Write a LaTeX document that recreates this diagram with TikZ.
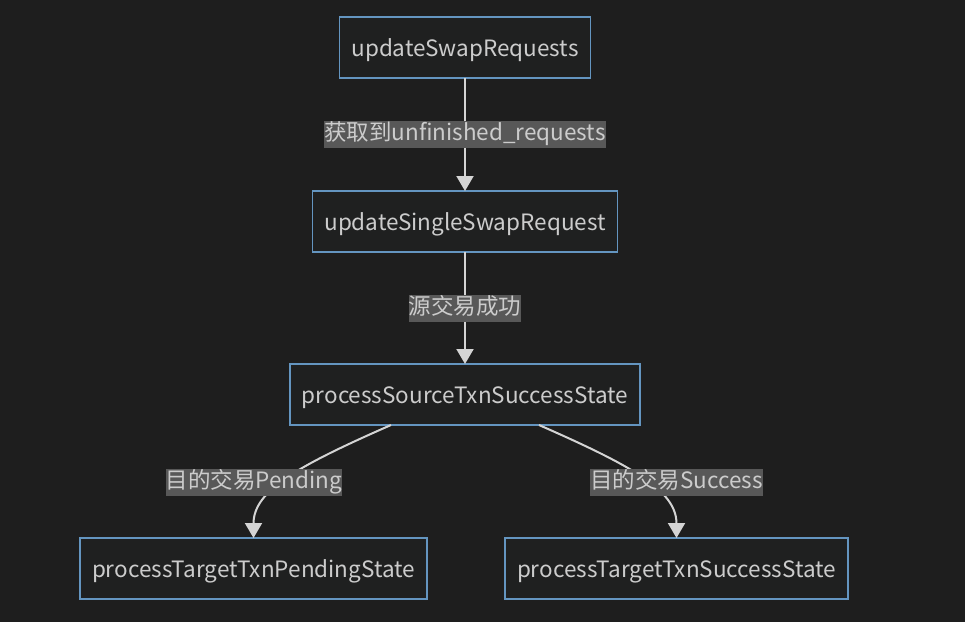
\documentclass[tikz,border=0pt]{standalone}
\usepackage{fontspec}
\setmainfont{Noto Sans CJK SC}
\definecolor{DkBg}{HTML}{1E1E1E}
\definecolor{BoxFill}{HTML}{1F2020}
\definecolor{BoxLine}{HTML}{6495C0}
\definecolor{TextGray}{HTML}{CCCCCC}
\definecolor{LabelBg}{HTML}{585858}
\definecolor{EdgeGray}{HTML}{D4D4D4}
\usetikzlibrary{positioning,arrows.meta,calc}

\begin{document}
\begin{tikzpicture}[x=1pt, y=-1pt, font=\fontsize{22.5}{27}\selectfont,
    flowbox/.style={draw=BoxLine, fill=BoxFill, line width=1.3pt, text=TextGray,
      minimum height=61pt, inner xsep=12pt, outer sep=0pt,
      text height=22pt, text depth=4pt},
    edgelabel/.style={fill=LabelBg, text=TextGray, inner xsep=0pt, inner ysep=1.5pt,
      text height=18pt, text depth=6pt},
    flowedge/.style={draw=EdgeGray, line width=2pt, -{Triangle[length=15pt,width=17pt]}}]
    \fill[DkBg] (0,0) rectangle (965,622);
    \useasboundingbox (0,0) rectangle (965,622);

    % steps
    \node[flowbox] (swaps) at (465,47.5) {updateSwapRequests};
    \node[flowbox] (single) at (465,221.5) {updateSingleSwapRequest};
    \node[flowbox] (source) at (465,394.5) {processSourceTxnSuccessState};
    \node[flowbox] (pending) at (253.5,568.5) {processTargetTxnPendingState};
    \node[flowbox] (success) at (676.5,568.5) {processTargetTxnSuccessState};

    % connectors
    \draw[flowedge] (swaps) -- (single);
    \draw[flowedge] (single) -- (source);
    \draw[flowedge] ([xshift=-74pt]source.south) .. controls +(-91,40) and +(0,-48) .. (pending.north);
    \draw[flowedge] ([xshift=74pt]source.south) .. controls +(91,40) and +(0,-48) .. (success.north);

    % labels on the connectors
    \node[edgelabel] (fetchlbl) at (465,134.5) {获取到unfinished\_requests};
    \node[edgelabel] (srclbl) at (465,308) {源交易成功};
    \node[edgelabel] (pendlbl) at (254,482) {目的交易Pending};
    \node[edgelabel] (succlbl) at (676.5,482) {目的交易Success};
  \end{tikzpicture}
\end{document}
